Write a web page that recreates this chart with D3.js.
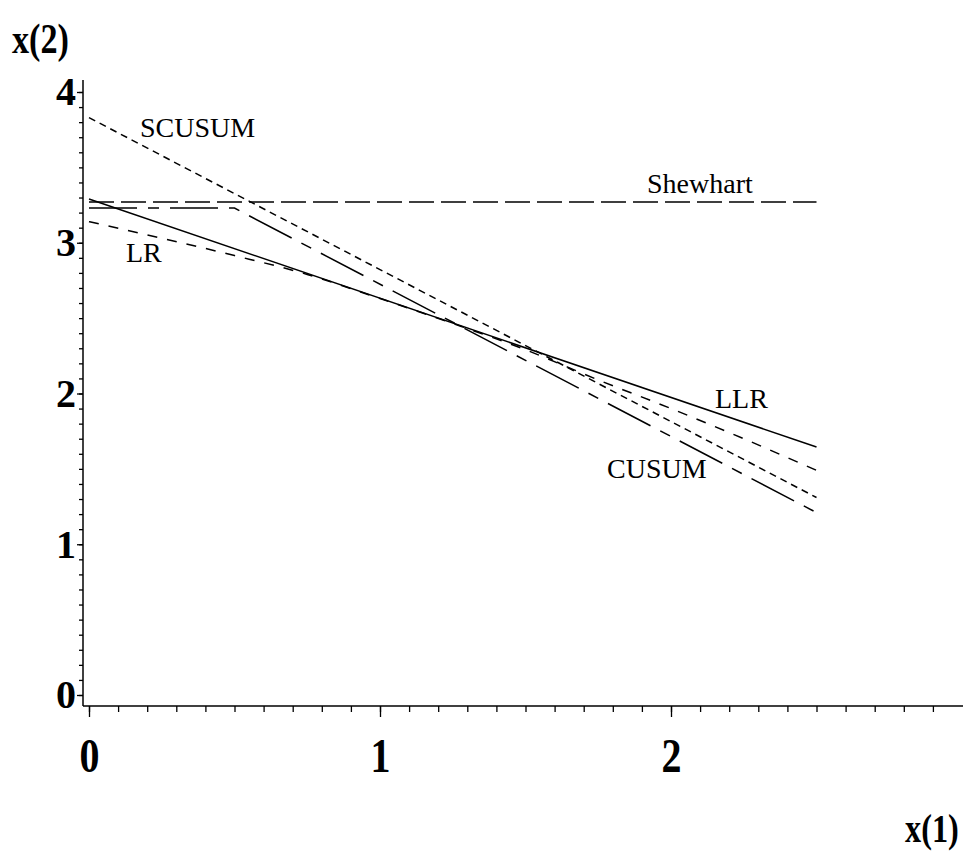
<!DOCTYPE html>
<html>
<head>
<meta charset="utf-8">
<script src="https://cdn.jsdelivr.net/npm/d3@7"></script>
<style>
  body { margin: 0; background: #fff; }
  svg { display: block; }
</style>
</head>
<body>
<svg width="967" height="854"></svg>
<script>
// values
const shewhartX = [0, 2.5];
const shewhartY = [3.27, 3.27];
const llrX = [0, 2.5];
const llrY = [3.29, 1.645];
const cusumX = [0, 0.5, 2.5];
const cusumY = [3.23, 3.23, 1.21];
const scusumX = [0, 2.5];
const scusumY = [3.83, 1.31];
const lrX = [0, 0.25, 0.5, 0.75, 1.0, 1.25, 1.5, 1.75, 2.0, 2.25, 2.5];
const lrY = [3.14, 3.03, 2.915, 2.79, 2.63, 2.465, 2.29, 2.09, 1.90, 1.70, 1.49];
const xMajor = [0, 1, 2];
const yMajor = [0, 1, 2, 3, 4];

var svg = d3.select("svg");

var x = d3.scaleLinear().domain([0, 3]).range([89, 962]);
var y = d3.scaleLinear().domain([0, 4]).range([695, 92]);

var AXIS_X = 83, AXIS_Y = 706;

// y axis
var yMinor = d3.range(0, 41).map(function (i) { return i / 10; });
svg.append("g")
    .attr("transform", "translate(" + AXIS_X + ",0)")
    .call(d3.axisLeft(y).tickValues(yMinor).tickSize(4).tickFormat(""))
    .call(function (g) { g.select(".domain").remove(); });

var yAx = svg.append("g")
    .attr("transform", "translate(" + AXIS_X + ",0)")
    .call(d3.axisLeft(y).tickValues(yMajor).tickSize(6).tickPadding(1).tickFormat(d3.format("d")));
yAx.select(".domain").remove();
yAx.selectAll("text")
    .attr("font-family", "Liberation Serif, serif")
    .attr("font-weight", "bold")
    .attr("font-size", 40)
    .attr("fill", "#000");

svg.append("line")
    .attr("x1", AXIS_X).attr("x2", AXIS_X)
    .attr("y1", 80).attr("y2", AXIS_Y)
    .attr("stroke", "#000").attr("stroke-width", 1.5);

// x axis
var xMinor = d3.range(0, 30).map(function (i) { return i / 10; });
svg.append("g")
    .attr("transform", "translate(0," + AXIS_Y + ")")
    .call(d3.axisBottom(x).tickValues(xMinor).tickSize(6).tickFormat(""))
    .call(function (g) { g.select(".domain").remove(); });

var xAx = svg.append("g")
    .attr("transform", "translate(0," + AXIS_Y + ")")
    .call(d3.axisBottom(x).tickValues(xMajor).tickSize(11).tickFormat(d3.format("d")));
xAx.select(".domain").remove();
xAx.selectAll("text")
    .attr("font-family", "Liberation Serif, serif")
    .attr("font-weight", "bold")
    .attr("font-size", 40)
    .attr("fill", "#000")
    .attr("dy", null)
    .attr("y", 55)
    .attr("transform", "scale(1,1.2)");

svg.append("line")
    .attr("x1", AXIS_X).attr("x2", 963)
    .attr("y1", AXIS_Y).attr("y2", AXIS_Y)
    .attr("stroke", "#000").attr("stroke-width", 1.5);

svg.selectAll(".tick line").attr("stroke", "#000").attr("stroke-width", 1.3);

// axis titles
svg.append("text")
    .attr("transform", "translate(12,53) scale(0.9,1.12)")
    .attr("font-family", "Liberation Serif, serif")
    .attr("font-weight", "bold")
    .attr("font-size", 38)
    .text("x(2)");

svg.append("text")
    .attr("transform", "translate(905,842) scale(0.85,1.05)")
    .attr("font-family", "Liberation Serif, serif")
    .attr("font-weight", "bold")
    .attr("font-size", 38)
    .text("x(1)");

// curves
var series = [
    { name: "Shewhart", xs: shewhartX, ys: shewhartY, dash: "25,7", curve: d3.curveLinear },
    { name: "LLR", xs: llrX, ys: llrY, dash: null, curve: d3.curveLinear },
    { name: "CUSUM", xs: cusumX, ys: cusumY, dash: "48,11,11,11", curve: d3.curveLinear },
    { name: "SCUSUM", xs: scusumX, ys: scusumY, dash: "7,5", curve: d3.curveLinear },
    { name: "LR", xs: lrX, ys: lrY, dash: "10,10", curve: d3.curveMonotoneX }
];

series.forEach(function (s) {
    var pts = s.xs.map(function (v, i) { return [v, s.ys[i]]; });
    var line = d3.line()
        .x(function (d) { return x(d[0]); })
        .y(function (d) { return y(d[1]); })
        .curve(s.curve);
    svg.append("path")
        .datum(pts)
        .attr("d", line)
        .attr("fill", "none")
        .attr("stroke", "#000")
        .attr("stroke-width", 1.5)
        .attr("stroke-dasharray", s.dash);
});

// curve labels
var labels = [
    { text: "SCUSUM", px: 140, py: 137 },
    { text: "Shewhart", px: 647, py: 193 },
    { text: "LR", px: 126, py: 262 },
    { text: "LLR", px: 715, py: 408 },
    { text: "CUSUM", px: 607, py: 478 }
];
svg.selectAll(".clabel")
    .data(labels)
    .enter().append("text")
    .attr("class", "clabel")
    .attr("x", function (d) { return d.px; })
    .attr("y", function (d) { return d.py; })
    .attr("font-family", "Liberation Serif, serif")
    .attr("font-size", 28)
    .attr("fill", "#000")
    .text(function (d) { return d.text; });
</script>
</body>
</html>
